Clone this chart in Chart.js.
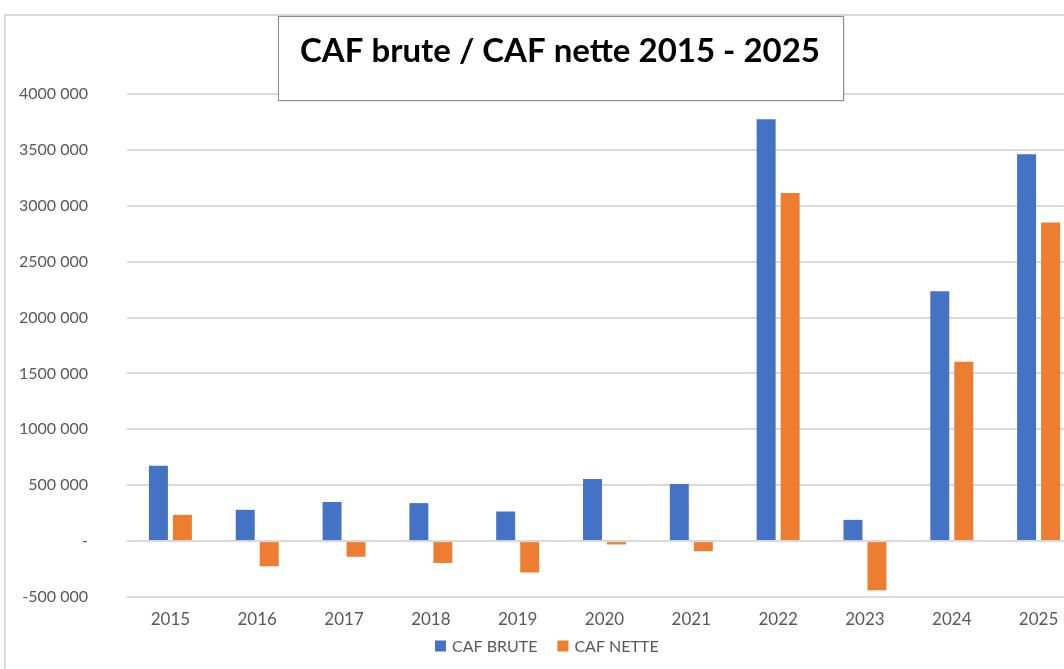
<!DOCTYPE html>
<html>
<head>
<meta charset="utf-8">
<script src="https://cdn.jsdelivr.net/npm/chart.js@4"></script>
<style>
  html, body { margin: 0; padding: 0; background: #fff; overflow: hidden; }
  #wrap { position: absolute; left: 0; top: 0; width: 1100px; height: 669px; }
</style>
</head>
<body>
<div id="wrap"><canvas id="caf" width="1100" height="669"></canvas></div>
<script>
/* CAF brute / CAF nette 2015-2025 — grouped columns, Excel look. */
const YEARS = ["2015", "2016", "2017", "2018", "2019", "2020", "2021", "2022", "2023", "2024", "2025"];
const CAF_BRUTE = [675000, 280000, 350000, 340000, 265000, 555000, 510000, 3775000, 190000, 2235000, 3460000];
const CAF_NETTE = [235000, -225000, -140000, -195000, -280000, -30000, -90000, 3115000, -440000, 1605000, 2850000];
const Y_MIN = -500000, Y_MAX = 4000000, Y_STEP = 500000;
const TITLE = "CAF brute / CAF nette 2015 - 2025";

const BLUE = "#4472C4", ORANGE = "#ED7D31", GRID = "#D9D9D9", TICK = "#595959";
const FONT = "Lato";

// "4000 000" / "-500 000" / "-" — the sheet's number format
function fmt(v) {
  if (v === 0) return "-";
  return (v / 1000) + " 000";
}

// light frame of the chart object (only left and top edges are visible)
const framePlugin = {
  id: "frame",
  beforeDraw(chart) {
    const c = chart.ctx;
    c.save();
    c.strokeStyle = GRID; c.lineWidth = 2;
    c.beginPath();
    c.moveTo(5, chart.height); c.lineTo(5, 15); c.lineTo(chart.width, 15);
    c.stroke();
    c.restore();
  },
};

// boxed title laid over the top gridline, like the Excel text box
const titleBoxPlugin = {
  id: "titleBox",
  afterDraw(chart) {
    const c = chart.ctx;
    c.save();
    c.shadowColor = "rgba(0,0,0,0.25)"; c.shadowOffsetX = 1; c.shadowOffsetY = 1; c.shadowBlur = 2;
    c.fillStyle = "#fff";
    c.fillRect(278, 16, 565, 84);
    c.shadowColor = "transparent";
    c.strokeStyle = "#8c8c8c"; c.lineWidth = 1;
    c.strokeRect(278.5, 16.5, 565, 84);
    c.fillStyle = "#000";
    c.font = "bold 33px " + FONT;
    c.textAlign = "center"; c.textBaseline = "middle";
    c.fillText(TITLE, 560, 51);
    c.restore();
  },
};

// Excel-style legend: tight rows close under the axis labels, which the
// built-in legend can't do with a 20px item gap (its padding is used both ways).
const legendPlugin = {
  id: "xlLegend",
  afterDraw(chart) {
    const c = chart.ctx;
    const sets = chart.data.datasets;
    const box = 11, gapText = 6, gapItem = 20, cy = 646, cx = 547;
    c.save();
    c.font = "16px " + FONT;
    c.textBaseline = "middle"; c.textAlign = "left";
    const widths = sets.map((d) => box + gapText + c.measureText(d.label).width);
    const total = widths.reduce((a, w) => a + w, 0) + gapItem * (sets.length - 1);
    let x = Math.round(cx - total / 2);
    sets.forEach((d, i) => {
      c.fillStyle = d.backgroundColor;
      c.fillRect(x, cy - box / 2, box, box);
      c.fillStyle = TICK;
      c.fillText(d.label, x + box + gapText, cy + 1);
      x += widths[i] + gapItem;
    });
    c.restore();
  },
};

new Chart(document.getElementById("caf"), {
  type: "bar",
  data: {
    labels: YEARS,
    datasets: [
      { label: "CAF BRUTE", data: CAF_BRUTE, backgroundColor: BLUE },
      { label: "CAF NETTE", data: CAF_NETTE, backgroundColor: ORANGE },
    ],
  },
  options: {
    responsive: false,
    animation: false,
    devicePixelRatio: 1,
    categoryPercentage: 0.553,
    barPercentage: 0.79,
    layout: { padding: { top: 94, left: 0, right: 18, bottom: 32 } },
    plugins: {
      legend: { display: false },
      tooltip: { enabled: false },
    },
    scales: {
      x: {
        afterFit(scale) { scale.height = 40; },
        grid: { display: false, drawTicks: false },
        border: { display: false },
        ticks: { color: TICK, padding: 12, font: { family: FONT, size: 17 } },
      },
      y: {
        min: Y_MIN, max: Y_MAX,
        afterFit(scale) { scale.width = 127; },
        grid: { color: GRID, lineWidth: 2, drawTicks: false },
        border: { display: false },
        ticks: { stepSize: Y_STEP, padding: 39, color: TICK, font: { family: FONT, size: 16 }, callback: fmt },
      },
    },
  },
  plugins: [framePlugin, titleBoxPlugin, legendPlugin],
});
</script>
</body>
</html>
